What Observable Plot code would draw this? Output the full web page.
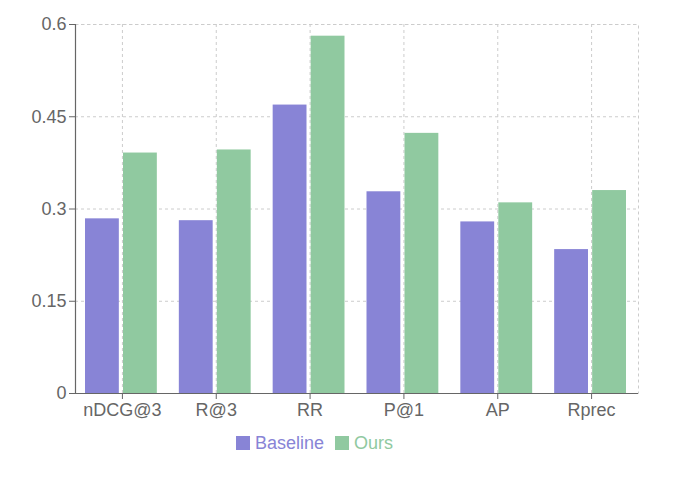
<!DOCTYPE html>
<html>
<head>
<meta charset="utf-8">
<script src="https://cdn.jsdelivr.net/npm/d3@7"></script>
<script src="https://cdn.jsdelivr.net/npm/@observablehq/plot@0.6"></script>
<style>
  body { margin: 0; background: #fff; font-family: "Liberation Sans", Arial, sans-serif; }
  #legend { display: flex; align-items: center; padding-left: 236px; margin-top: 1px; font-size: 18px; height: 24px; }
  .item { display: flex; align-items: center; margin-right: 11px; }
  .sw { width: 14px; height: 14px; margin-right: 5px; }
</style>
</head>
<body>
<div id="chart"></div>
<script>
const metrics = ["nDCG@3", "R@3", "RR", "P@1", "AP", "Rprec"];
const seriesNames = ["Baseline", "Ours"];
const baseline = [0.284, 0.281, 0.469, 0.328, 0.279, 0.234];
const ours = [0.391, 0.396, 0.581, 0.423, 0.310, 0.330];
const yTicks = [0, 0.15, 0.3, 0.45, 0.6];
const colors = ["#8884d6", "#90c9a0"];

const baseData = metrics.map((m, i) => ({metric: m, value: baseline[i]}));
const oursData = metrics.map((m, i) => ({metric: m, value: ours[i]}));

const chart = Plot.plot({
  width: 680,
  height: 430,
  marginLeft: 75,
  marginRight: 42,
  marginTop: 24,
  marginBottom: 37,
  style: {fontSize: "18px", fontFamily: "Liberation Sans, Arial, sans-serif", color: "#666", background: "#fff"},
  x: {domain: metrics, padding: 0, round: false, label: null},
  y: {domain: [0, 0.6], label: null},
  marks: [
    Plot.gridY(yTicks, {stroke: "#ccc", strokeOpacity: 1, strokeDasharray: "3 3"}),
    Plot.gridX(metrics, {stroke: "#ccc", strokeOpacity: 1, strokeDasharray: "3 3"}),
    Plot.frame({stroke: "#ccc", strokeDasharray: "3 3"}),
    Plot.barY(baseData, {x: "metric", y: "value", fill: colors[0], insetLeft: 10, insetRight: 50}),
    Plot.barY(oursData, {x: "metric", y: "value", fill: colors[1], insetLeft: 48, insetRight: 12}),
    Plot.axisY({ticks: yTicks, tickFormat: d => String(d), tickSize: 6, tickPadding: 3, label: null, stroke: "#666", fill: "#666"}),
    Plot.axisX({tickSize: 6, tickPadding: 4, label: null, stroke: "#666", fill: "#666"}),
    Plot.ruleY([0], {stroke: "#666", strokeWidth: 1.2}),
    Plot.ruleX(metrics.slice(0, 1), {stroke: "#666", strokeWidth: 1.2, dx: -563 / 12})
  ]
});
document.getElementById("chart").appendChild(chart);

const legend = document.createElement("div");
legend.id = "legend";
seriesNames.forEach((s, i) => {
  const it = document.createElement("div");
  it.className = "item";
  const sw = document.createElement("div");
  sw.className = "sw";
  sw.style.background = colors[i];
  const tx = document.createElement("span");
  tx.textContent = s;
  tx.style.color = colors[i];
  it.appendChild(sw);
  it.appendChild(tx);
  legend.appendChild(it);
});
document.body.appendChild(legend);
</script>
</body>
</html>
